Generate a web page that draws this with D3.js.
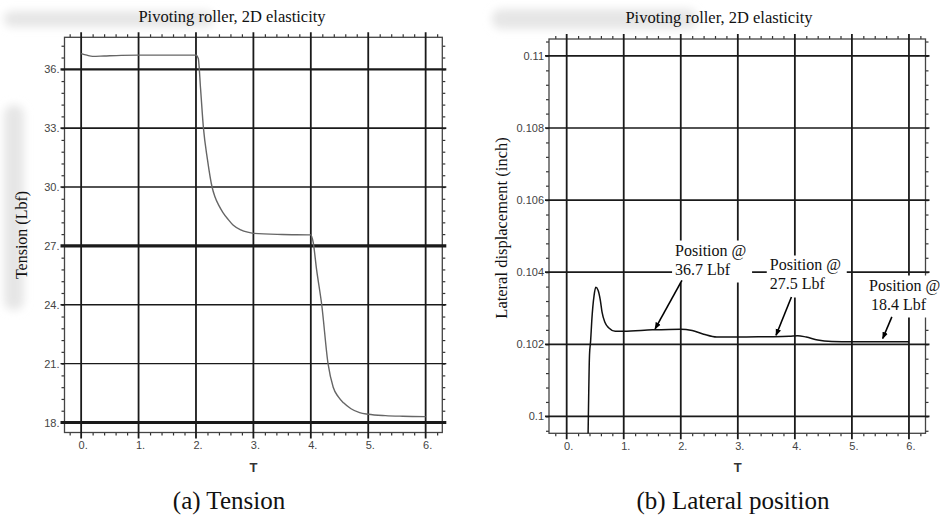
<!DOCTYPE html>
<html>
<head>
<meta charset="utf-8">
<script src="https://cdn.jsdelivr.net/npm/d3@7"></script>
<style>
  html, body { margin: 0; padding: 0; background: #fff; }
  svg { display: block; }
  .ticklab { font-family: "Liberation Sans", Arial, sans-serif; font-size: 11px; fill: #444; }
  .serif { font-family: "Liberation Serif", "Times New Roman", serif; fill: #111; }
</style>
</head>
<body>
<svg id="chart" width="941" height="516"></svg>
<script>
// ---- data ----
var tTicks = [0, 1, 2, 3, 4, 5, 6];
var tensionTicks = [18, 21, 24, 27, 30, 33, 36];
var dispTicks = [0.1, 0.102, 0.104, 0.106, 0.108, 0.11];
var dispTickLabels = ["0.1", "0.102", "0.104", "0.106", "0.108", "0.11"];

// tension (Lbf) vs T
var tensionT = [0, 0.1, 0.2, 0.4, 0.7, 1.0, 1.5, 2.0, 2.04, 2.08, 2.13, 2.2, 2.28, 2.33, 2.4, 2.47, 2.56, 2.65, 2.78, 2.9, 3.0, 3.5, 4.0, 4.04, 4.1, 4.19, 4.3, 4.39, 4.48, 4.57, 4.7, 4.85, 5.0, 5.3, 5.6, 6.0];
var tension = [36.8, 36.72, 36.66, 36.68, 36.71, 36.72, 36.72, 36.72, 36.55, 35.0, 33.0, 31.4, 30.0, 29.5, 29.05, 28.7, 28.35, 28.05, 27.82, 27.7, 27.64, 27.58, 27.56, 27.2, 25.8, 24.0, 21.0, 19.8, 19.3, 19.0, 18.7, 18.5, 18.42, 18.35, 18.32, 18.3];

// lateral displacement (inch) vs T
var dispT = [0.37, 0.38, 0.40, 0.42, 0.44, 0.48, 0.51, 0.55, 0.59, 0.62, 0.67, 0.74, 0.85, 1.0, 1.5, 2.0, 2.2, 2.4, 2.63, 3.0, 3.5, 3.9, 4.05, 4.2, 4.4, 4.65, 5.0, 5.5, 6.0];
var disp = [0.0990, 0.1000, 0.1017, 0.1021, 0.10266, 0.10335, 0.10358, 0.1035, 0.10322, 0.10289, 0.10261, 0.10245, 0.10236, 0.10236, 0.10240, 0.10242, 0.10238, 0.10228, 0.10220, 0.10220, 0.10221, 0.10222, 0.10224, 0.10220, 0.10212, 0.10208, 0.10207, 0.10207, 0.10207];

// annotations on the displacement plot (data coords)
var annLines = [["Position @", "36.7 Lbf"], ["Position @", "27.5 Lbf"], ["Position @", "18.4 Lbf"]];
var annAt = [[1.90, 0.10446], [3.56, 0.10405], [5.30, 0.10349]];
var arrowFrom = [[2.02, 0.10377], [3.94, 0.10331], [5.70, 0.10276]];
var arrowTo = [[1.55, 0.10243], [3.67, 0.10225], [5.54, 0.10216]];

var svg = d3.select("#chart");
var defs = svg.append("defs");
defs.append("filter").attr("id", "blur").append("feGaussianBlur").attr("stdDeviation", 4);
defs.append("marker").attr("id", "head")
  .attr("viewBox", "0 0 10 10").attr("refX", 9).attr("refY", 5)
  .attr("markerWidth", 7).attr("markerHeight", 7).attr("orient", "auto")
  .attr("markerUnits", "userSpaceOnUse")
  .append("path").attr("d", "M0,1 L10,5 L0,9 z").attr("fill", "#000");

// whiteout smudges in the scan
var smudge = svg.append("g").attr("filter", "url(#blur)").attr("fill", "#e6e6e6");
smudge.append("rect").attr("x", 4).attr("y", 11).attr("width", 210).attr("height", 16).attr("rx", 8);
smudge.append("rect").attr("x", 4).attr("y", 105).attr("width", 20).attr("height", 205).attr("rx", 9);
smudge.append("rect").attr("x", 492).attr("y", 9).attr("width", 205).attr("height", 20).attr("rx", 9);

function panel(cfg) {
  var g = svg.append("g");
  var x = d3.scaleLinear().domain(cfg.xDom).range([cfg.left, cfg.right]);
  var y = d3.scaleLinear().domain(cfg.yDom).range([cfg.bottom, cfg.top]);

  // minor ticks (outward) via axes
  var xMinor = d3.range(-1, 32).map(function (i) { return i * 0.2; })
    .filter(function (v) { return v > cfg.xDom[0] && v < cfg.xDom[1] && Math.abs(v - Math.round(v)) > 0.01; });
  var yMinor = d3.range(-40, 40).map(function (i) { return cfg.yTicks[0] + i * cfg.yMinorStep; })
    .filter(function (v) { return v > cfg.yDom[0] && v < cfg.yDom[1]; });
  var minorStyle = function (sel) {
    sel.select(".domain").remove();
    sel.selectAll("line").attr("stroke", "#333").attr("stroke-width", 1.2);
  };
  g.append("g").attr("transform", "translate(0," + cfg.bottom + ")")
    .call(d3.axisBottom(x).tickValues(xMinor).tickSize(3).tickFormat("")).call(minorStyle);
  g.append("g").attr("transform", "translate(0," + cfg.top + ")")
    .call(d3.axisTop(x).tickValues(xMinor).tickSize(3).tickFormat("")).call(minorStyle);
  g.append("g").attr("transform", "translate(" + cfg.left + ",0)")
    .call(d3.axisLeft(y).tickValues(yMinor).tickSize(3).tickFormat("")).call(minorStyle);
  g.append("g").attr("transform", "translate(" + cfg.right + ",0)")
    .call(d3.axisRight(y).tickValues(yMinor).tickSize(3).tickFormat("")).call(minorStyle);

  // frame
  g.append("rect").attr("x", cfg.left).attr("y", cfg.top)
    .attr("width", cfg.right - cfg.left).attr("height", cfg.bottom - cfg.top)
    .attr("fill", "none").attr("stroke", "#444").attr("stroke-width", 1.3);

  // grid
  g.selectAll("line.vg").data(tTicks).enter().append("line")
    .attr("x1", function (d) { return x(d); }).attr("x2", function (d) { return x(d); })
    .attr("y1", cfg.top - 5).attr("y2", cfg.bottom + 6)
    .attr("stroke", "#1a1a1a").attr("stroke-width", 1.8);
  g.selectAll("line.hg").data(cfg.yTicks).enter().append("line")
    .attr("x1", cfg.left - 4).attr("x2", cfg.right + 4)
    .attr("y1", function (d) { return y(d); }).attr("y2", function (d) { return y(d); })
    .attr("stroke", "#1a1a1a").attr("stroke-width", function (d) { return cfg.hWidth(d); });

  // tick labels via axes
  var xAx = g.append("g").attr("transform", "translate(1.5," + (cfg.bottom + 6) + ")")
    .call(d3.axisBottom(x).tickValues(tTicks).tickSize(0).tickPadding(3).tickFormat(function (d) { return d + "."; }));
  var yAx = g.append("g").attr("transform", "translate(" + (cfg.left - 5) + ",0)")
    .call(d3.axisLeft(y).tickValues(cfg.yTicks).tickSize(0).tickPadding(0).tickFormat(cfg.yFmt));
  [xAx, yAx].forEach(function (a) {
    a.select(".domain").remove();
    a.selectAll("text").attr("class", "ticklab").attr("font-family", null).attr("font-size", null);
  });

  // curve
  var clipId = "clip" + cfg.id;
  defs.append("clipPath").attr("id", clipId).append("rect")
    .attr("x", cfg.left).attr("y", cfg.top).attr("width", cfg.right - cfg.left).attr("height", cfg.bottom - cfg.top);
  var line = d3.line().x(function (d) { return x(d[0]); }).y(function (d) { return y(d[1]); }).curve(d3.curveMonotoneX);
  g.append("path").datum(d3.zip(cfg.xs, cfg.ys)).attr("clip-path", "url(#" + clipId + ")")
    .attr("d", line).attr("fill", "none").attr("stroke", cfg.curveColor).attr("stroke-width", cfg.curveWidth);

  // titles
  g.append("text").attr("class", "serif").attr("x", cfg.titleX).attr("y", cfg.titleY)
    .attr("text-anchor", "middle").attr("font-size", 16.5).text("Pivoting roller, 2D elasticity");
  g.append("text").attr("x", x(3)).attr("y", 472).attr("text-anchor", "middle")
    .attr("font-family", "Liberation Sans, Arial, sans-serif").attr("font-size", 13).attr("font-weight", "bold")
    .attr("fill", "#333").text("T");
  g.append("text").attr("class", "serif").attr("transform", "translate(" + cfg.yLabX + "," + cfg.yLabY + ") rotate(-90)")
    .attr("text-anchor", "middle").attr("font-size", cfg.yLabSize).text(cfg.yLabel);
  g.append("text").attr("class", "serif").attr("x", cfg.capX).attr("y", 509)
    .attr("text-anchor", "middle").attr("font-size", 25).text(cfg.caption);

  return { g: g, x: x, y: y };
}

panel({
  id: "a", left: 64.5, right: 442.3, top: 37.3, bottom: 432.5,
  xDom: [-0.29, 6.29], yDom: [17.49, 37.63], yTicks: tensionTicks, yMinorStep: 0.6,
  hWidth: function (d) { return d === 18 || d === 27 ? 3.2 : (d === 36 ? 2.2 : (d === 21 ? 1.2 : 1.6)); },
  yFmt: function (d) { return d + "."; },
  xs: tensionT, ys: tension, curveColor: "#666", curveWidth: 1.4,
  titleX: 232, titleY: 22, yLabel: "Tension (Lbf)", yLabX: 27, yLabY: 235, yLabSize: 16,
  capX: 229, caption: "(a) Tension"
});

var b = panel({
  id: "b", left: 549, right: 925.5, top: 39, bottom: 433.3,
  xDom: [-0.31, 6.29], yDom: [0.09953, 0.11047], yTicks: dispTicks, yMinorStep: 0.0004,
  hWidth: function (d) { return 1.7; },
  yFmt: function (d, i) { return dispTickLabels[i]; },
  xs: dispT, ys: disp, curveColor: "#111", curveWidth: 1.5,
  titleX: 719, titleY: 23, yLabel: "Lateral displacement (inch)", yLabX: 507, yLabY: 228, yLabSize: 16.5,
  capX: 733, caption: "(b) Lateral position"
});

// annotations
annLines.forEach(function (lines, i) {
  var ax = b.x(annAt[i][0]), ay = b.y(annAt[i][1]);
  b.g.append("rect").attr("x", ax - 3).attr("y", ay - 15).attr("width", 80).attr("height", 42)
    .attr("fill", "#fff").attr("rx", 6);
  b.g.append("line")
    .attr("x1", b.x(arrowFrom[i][0])).attr("y1", b.y(arrowFrom[i][1]))
    .attr("x2", b.x(arrowTo[i][0])).attr("y2", b.y(arrowTo[i][1]))
    .attr("stroke", "#000").attr("stroke-width", 1.6).attr("marker-end", "url(#head)");
  lines.forEach(function (s, j) {
    b.g.append("text").attr("class", "serif").attr("x", ax + (j === 1 && i === 2 ? 2 : 0)).attr("y", ay + j * 19)
      .attr("font-size", 16).text(s);
  });
});
</script>
</body>
</html>
